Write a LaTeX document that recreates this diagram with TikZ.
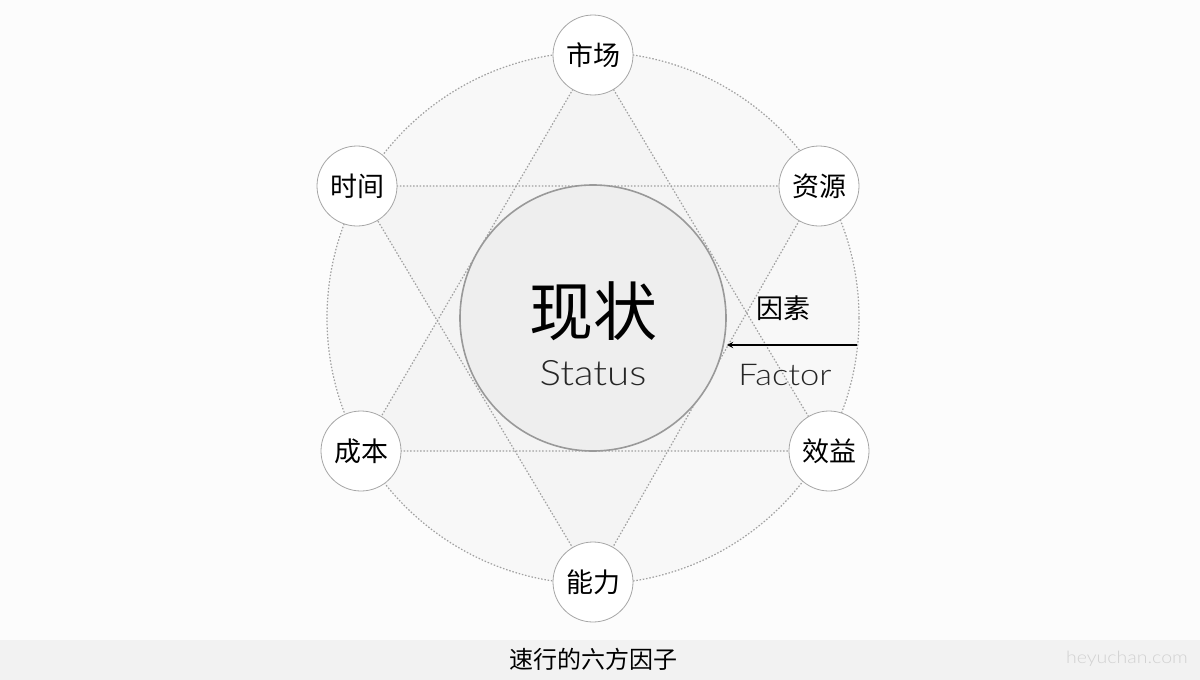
\documentclass[tikz,border=0pt]{standalone}
\usepackage{fontspec}
\newfontfamily\cjk{Noto Sans CJK SC}
\newfontfamily\latlight{Lato Light}[FakeStretch=1.15]
\definecolor{bg}{HTML}{FCFCFC}
\definecolor{band}{HTML}{F2F2F2}
\definecolor{bigfill}{HTML}{F8F8F8}
\definecolor{starfill}{HTML}{F4F4F4}
\definecolor{cfill}{HTML}{EEEEEE}
\definecolor{dotc}{HTML}{A0A0A0}
\begin{document}
\begin{tikzpicture}[x=1pt,y=-1pt,
  dotline/.style={draw=dotc,line width=1.2pt,dash pattern=on 1.5pt off 1.8pt},
  factor/.style={circle,draw=black!35,line width=0.8pt,fill=white,minimum size=80pt,inner sep=0pt,font=\cjk\fontsize{27}{29}\selectfont},
  >=stealth]
\useasboundingbox (0,0) rectangle (1200,680);
\fill[bg] (0,0) rectangle (1200,680);
\fill[band] (0,640) rectangle (1200,680);
\coordinate (O) at (593,318);
\fill[bigfill] (O) circle (266);
\draw[dotline] (O) circle (266);
\coordinate (pM) at (593,55);
\coordinate (pT) at (357,186);
\coordinate (pZ) at (819,186);
\coordinate (pC) at (361,451);
\coordinate (pX) at (829,451);
\coordinate (pN) at (593,582);
\fill[starfill] (pM) -- (pC) -- (pX) -- cycle;
\fill[starfill] (pT) -- (pZ) -- (pN) -- cycle;
\draw[dotline] (pM) -- (pC) -- (pX) -- cycle;
\draw[dotline] (pT) -- (pZ) -- (pN) -- cycle;
\node[circle,draw=black!40,line width=1.6pt,fill=cfill,minimum size=266pt,inner sep=0pt] (center) at (O) {};
\node[font=\cjk\fontsize{64}{66}\selectfont] (xz) at (593,311) {现状};
\node[font=\latlight\fontsize{35}{37}\selectfont,text=black!85] (st) at (593,373) {Status};
\node[factor] (m) at (pM) {市场};
\node[factor] (t) at (pT) {时间};
\node[factor] (z) at (pZ) {资源};
\node[factor] (c) at (pC) {成本};
\node[factor] (x) at (pX) {效益};
\node[factor] (n) at (pN) {能力};
\coordinate (astart) at (857,345);
\draw[->,line width=1.8pt] (astart) -- (center.east |- astart);
\node[font=\cjk\fontsize{27}{29}\selectfont] (ys) at (783,308) {因素};
\node[font=\latlight\fontsize{30}{32}\selectfont,text=black!85] (fa) at (785,375) {Factor};
\node[font=\cjk\fontsize{24}{26}\selectfont] (cap) at (593,659) {速行的六方因子};
\node[font=\latlight\fontsize{17}{19}\selectfont,text=black!18] (wm) at (1127,659) {heyuchan.com};
\end{tikzpicture}
\end{document}
